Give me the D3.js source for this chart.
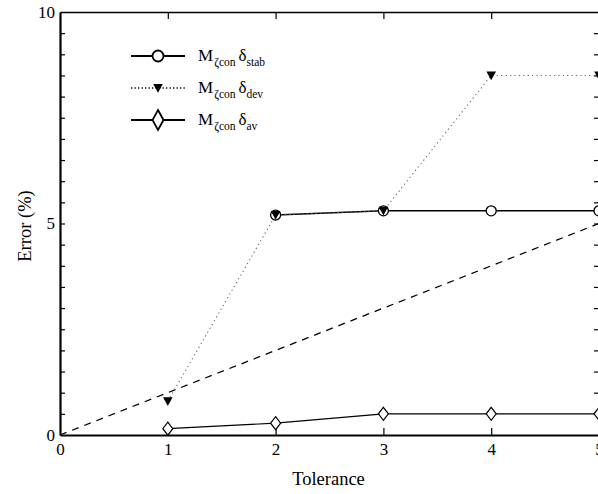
<!DOCTYPE html>
<html>
<head>
<meta charset="utf-8">
<script src="https://cdn.jsdelivr.net/npm/d3@7"></script>
<style>
  body { margin: 0; background: #fff; }
  svg { display: block; }
  svg text { font-family: 'Liberation Serif', 'DejaVu Serif', 'Times New Roman', Times, serif; fill: #000; }
</style>
</head>
<body>
<svg id="chart" width="598" height="494"></svg>
<script>
// Data
const xTicks = [0, 1, 2, 3, 4, 5];
const yTicks = [0, 5, 10];
const yMinorTicks = d3.range(0, 10.01, 0.5);

const stabX = [2, 3, 4, 5];
const stabY = [5.2, 5.3, 5.3, 5.3];
const devX = [1, 2, 3, 4, 5];
const devY = [0.8, 5.2, 5.3, 8.5, 8.5];
const avX = [1, 2, 3, 4, 5];
const avY = [0.15, 0.28, 0.5, 0.5, 0.5];
const refX = [0, 5];
const refY = [0, 5];

const legendSubs = ['stab', 'dev', 'av'];

const serif = "'Liberation Serif', 'DejaVu Serif', 'Times New Roman', Times, serif";

const svg = d3.select('#chart');

// Plot frame (right edge falls just outside the window)
const plotLeft = 60, plotRight = 599, plotTop = 12, plotBottom = 435;

const x = d3.scaleLinear().domain([0, 5]).range([plotLeft, plotRight]);
const y = d3.scaleLinear().domain([0, 10]).range([plotBottom, plotTop]);

const zip = (xs, ys) => xs.map((v, i) => [v, ys[i]]);
const line = d3.line().x(d => x(d[0])).y(d => y(d[1]));

// Axes
const bottomAxis = svg.append('g')
    .attr('transform', `translate(0,${plotBottom})`)
    .call(d3.axisBottom(x).tickValues(xTicks).tickFormat(d3.format('d'))
        .tickSizeInner(-7).tickSizeOuter(0).tickPadding(8));
bottomAxis.select('.domain').attr('stroke-width', 2.2);
bottomAxis.selectAll('.tick line').filter(d => d === 0 || d === 5).remove();

const topAxis = svg.append('g')
    .attr('transform', `translate(0,${plotTop})`)
    .call(d3.axisTop(x).tickValues([1, 2, 3, 4]).tickFormat('')
        .tickSizeInner(-7).tickSizeOuter(0));
topAxis.select('.domain').attr('stroke-width', 1.6);

const leftAxis = svg.append('g')
    .attr('transform', `translate(${plotLeft},0)`)
    .call(d3.axisLeft(y).tickValues(yTicks).tickFormat(d3.format('d'))
        .tickSizeInner(0).tickSizeOuter(0).tickPadding(5));
leftAxis.select('.domain').attr('stroke-width', 2.2);

const leftMinor = svg.append('g')
    .attr('transform', `translate(${plotLeft},0)`)
    .call(d3.axisLeft(y).tickValues(yMinorTicks.filter(v => v > 0 && v < 10))
        .tickFormat('').tickSizeInner(-5).tickSizeOuter(0));
leftMinor.select('.domain').remove();

const rightAxis = svg.append('g')
    .attr('transform', `translate(${plotRight},0)`)
    .call(d3.axisRight(y).tickValues(yMinorTicks.filter(v => v > 0 && v < 10))
        .tickFormat('').tickSizeInner(-5).tickSizeOuter(0));
rightAxis.select('.domain').attr('stroke-width', 1.6);

svg.selectAll('g').attr('font-family', serif);
svg.selectAll('.tick text').attr('font-size', 17).attr('font-family', serif);
svg.selectAll('.tick line').attr('stroke-width', 1.2);

// Axis titles
svg.append('text')
    .attr('x', (plotLeft + plotRight) / 2 - 1)
    .attr('y', 485)
    .attr('text-anchor', 'middle')
    .attr('font-family', serif)
    .attr('font-size', 18.5)
    .text('Tolerance');

svg.append('text')
    .attr('transform', `translate(31,226) rotate(-90)`)
    .attr('text-anchor', 'middle')
    .attr('font-family', serif)
    .attr('font-size', 18.5)
    .text('Error (%)');

// Series lines
const plot = svg.append('g');

plot.append('path')
    .attr('d', line(zip(refX, refY)))
    .attr('fill', 'none').attr('stroke', '#000')
    .attr('stroke-width', 1.3).attr('stroke-dasharray', '7,6');

plot.append('path')
    .attr('d', line(zip(avX, avY)))
    .attr('fill', 'none').attr('stroke', '#000').attr('stroke-width', 1.2);

plot.append('path')
    .attr('d', line(zip(stabX, stabY)))
    .attr('fill', 'none').attr('stroke', '#000').attr('stroke-width', 1.5);

plot.append('path')
    .attr('d', line(zip(devX, devY)))
    .attr('fill', 'none').attr('stroke', '#666')
    .attr('stroke-width', 1.1).attr('stroke-dasharray', '1.2,3.2');

// Marker shapes
const diamond = (hw, hh) => `M0,${-hh}L${hw},0L0,${hh}L${-hw},0Z`;
const triangle = 'M-4.8,-4L4.8,-4L0,4.8Z';

plot.selectAll('.av-pt')
    .data(zip(avX, avY))
    .enter().append('path')
    .attr('class', 'av-pt')
    .attr('transform', d => `translate(${x(d[0])},${y(d[1])})`)
    .attr('d', diamond(5, 6.5))
    .attr('fill', '#fff').attr('stroke', '#000').attr('stroke-width', 1.2);

plot.selectAll('.stab-pt')
    .data(zip(stabX, stabY))
    .enter().append('circle')
    .attr('class', 'stab-pt')
    .attr('cx', d => x(d[0])).attr('cy', d => y(d[1])).attr('r', 5)
    .attr('fill', '#fff').attr('stroke', '#000').attr('stroke-width', 1.3);

plot.selectAll('.dev-pt')
    .data(zip(devX, devY))
    .enter().append('path')
    .attr('class', 'dev-pt')
    .attr('transform', d => `translate(${x(d[0])},${y(d[1])})`)
    .attr('d', triangle)
    .attr('fill', '#000');

// Legend
const legend = svg.append('g');
const rowY = [56, 88, 120];
const lx0 = 131, lx1 = 185, lmx = 158;

legend.append('line').attr('x1', lx0).attr('x2', lx1).attr('y1', rowY[0]).attr('y2', rowY[0])
    .attr('stroke', '#000').attr('stroke-width', 2);
legend.append('circle').attr('cx', lmx).attr('cy', rowY[0]).attr('r', 5.5)
    .attr('fill', '#fff').attr('stroke', '#000').attr('stroke-width', 1.8);

legend.append('line').attr('x1', lx0).attr('x2', lx1).attr('y1', rowY[1]).attr('y2', rowY[1])
    .attr('stroke', '#000').attr('stroke-width', 1.3).attr('stroke-dasharray', '1.3,2.2');
legend.append('path').attr('transform', `translate(${lmx},${rowY[1]})`)
    .attr('d', triangle).attr('fill', '#000');

legend.append('line').attr('x1', lx0).attr('x2', lx1).attr('y1', rowY[2]).attr('y2', rowY[2])
    .attr('stroke', '#000').attr('stroke-width', 2);
legend.append('path').attr('transform', `translate(${lmx},${rowY[2]})`)
    .attr('d', diamond(5.5, 10))
    .attr('fill', '#fff').attr('stroke', '#000').attr('stroke-width', 1.8);

legendSubs.forEach((sub, i) => {
    const t = legend.append('text')
        .attr('x', 198).attr('y', rowY[i] + 5)
        .attr('font-family', serif)
        .attr('font-size', 17);
    t.append('tspan').text('M');
    t.append('tspan').attr('font-size', 11.5).attr('dy', 5).attr('dx', 1).text('ζcon');
    t.append('tspan').attr('dy', -5).attr('dx', 3).text('δ');
    t.append('tspan').attr('font-size', 11.5).attr('dy', 5).text(sub);
});
</script>
</body>
</html>
